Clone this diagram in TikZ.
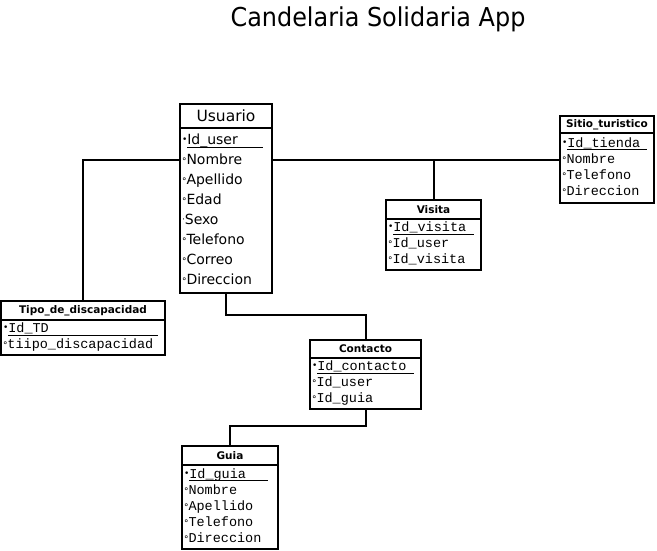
\documentclass[tikz,border=0pt]{standalone}
\usepackage{fontspec}
\setmainfont{DejaVu Sans}
\newfontfamily\monofont{Liberation Mono}
\newfontfamily\titlefont[FakeStretch=0.92]{DejaVu Sans}
\usetikzlibrary{positioning, calc}

% attribute markers
\newcommand{\mk}[1]{{\normalfont\fontsize{9}{9}\selectfont#1}}
\newcommand{\pk}[2]{\strut\mk{\raisebox{2pt}{•}}\rlap{\rule[-3pt]{#1}{0.9pt}}#2}
\newcommand{\at}[1]{\strut\mk{°}#1}

\begin{document}
\begin{tikzpicture}[x=1pt, y=-1pt,
    tblhead/.style={draw, line width=1.5pt, outer sep=0pt, inner sep=0pt, anchor=north west, font=\bfseries\fontsize{10.5}{12}\selectfont},
    tblbody/.style={draw, line width=1.5pt, outer sep=0pt, inner xsep=2pt, inner ysep=0pt, anchor=north west, align=left, font=\monofont\fontsize{13.5}{16}\selectfont},
    link/.style={line width=2pt}
]
\useasboundingbox (0,0) rectangle (657,551);

\node[font=\titlefont\fontsize{26}{30}\selectfont] (title) at (378,19) {Candelaria Solidaria App};

% Usuario
\node[tblhead, minimum width=92pt, minimum height=24pt, font=\fontsize{15.5}{18}\selectfont] (usuarioH) at (180,104) {Usuario};
\node[tblbody, text width=88pt, minimum height=165pt, font=\fontsize{14}{20}\selectfont] (usuarioB) at (usuarioH.south west) {%
  \pk{76pt}{Id\_user}\\ \at{Nombre}\\ \at{Apellido}\\ \at{Edad}\\
  \strut\mk{\raisebox{2pt}{·}}Sexo\\ \at{Telefono}\\ \at{Correo}\\ \at{Direccion}};

% Sitio_turistico
\node[tblhead, minimum width=94pt, minimum height=17pt] (sitioH) at (560,116) {Sitio\_turistico};
\node[tblbody, text width=90pt, minimum height=70pt] (sitioB) at (sitioH.south west) {%
  \pk{80pt}{Id\_tienda}\\ \at{Nombre}\\ \at{Telefono}\\ \at{Direccion}};

% Visita
\node[tblhead, minimum width=95pt, minimum height=19pt] (visitaH) at (386,200) {Visita};
\node[tblbody, text width=91pt, minimum height=51pt] (visitaB) at (visitaH.south west) {%
  \pk{81pt}{Id\_visita}\\ \at{Id\_user}\\ \at{Id\_visita}};

% Tipo_de_discapacidad
\node[tblhead, minimum width=164pt, minimum height=19pt] (tipoH) at (1,301) {Tipo\_de\_discapacidad};
\node[tblbody, text width=160pt, minimum height=35pt] (tipoB) at (tipoH.south west) {%
  \pk{150pt}{Id\_TD}\\ \at{tiipo\_discapacidad}};

% Contacto
\node[tblhead, minimum width=111pt, minimum height=18pt] (contactoH) at (310,340) {Contacto};
\node[tblbody, text width=107pt, minimum height=51pt] (contactoB) at (contactoH.south west) {%
  \pk{97pt}{Id\_contacto}\\ \at{Id\_user}\\ \at{Id\_guia}};

% Guia
\node[tblhead, minimum width=96pt, minimum height=19pt] (guiaH) at (182,446) {Guia};
\node[tblbody, text width=92pt, minimum height=84pt] (guiaB) at (guiaH.south west) {%
  \pk{79pt}{Id\_guia}\\ \at{Nombre}\\ \at{Apellido}\\ \at{Telefono}\\ \at{Direccion}};

% Links
\draw[link] (usuarioB.north west) ++(0,32) -| (tipoH.north);
\draw[link] (usuarioB.north east) ++(0,32) coordinate (uright) -- (uright -| sitioB.west);
\draw[link] (visitaH.north) -- (visitaH.north |- uright);
\draw[link] (usuarioB.south) -- ++(0,22) -| (contactoH.north);
\draw[link] (contactoB.south) -- ++(0,17) -| (guiaH.north);

\end{tikzpicture}
\end{document}
